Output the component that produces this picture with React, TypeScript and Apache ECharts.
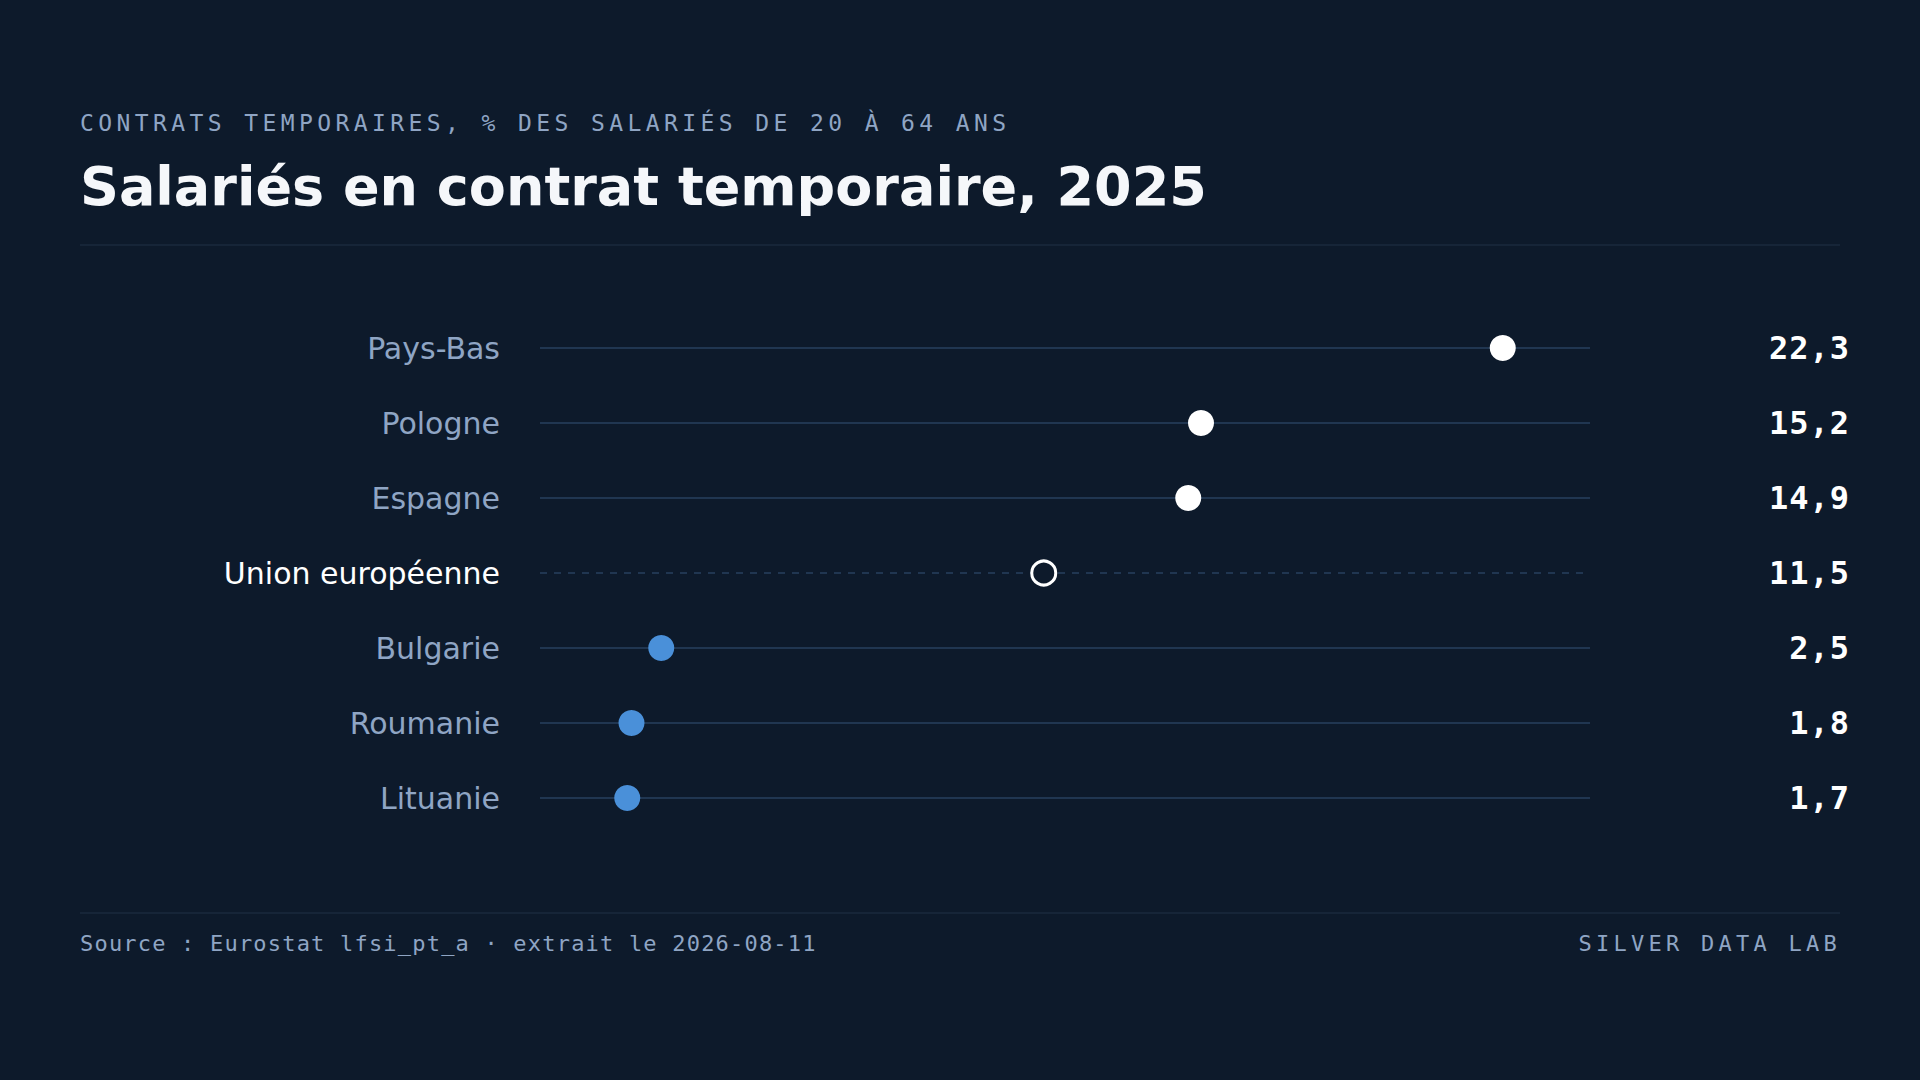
import React, { useEffect, useRef } from "react";
import * as echarts from "echarts";

// ---- data ----
const categories = ["Pays-Bas", "Pologne", "Espagne", "Union européenne", "Bulgarie", "Roumanie", "Lituanie"];
const values = [22.3, 15.2, 14.9, 11.5, 2.5, 1.8, 1.7];
const referenceCategory = "Union européenne";
const xDomain = [0, 24];

const subtitleText = "CONTRATS TEMPORAIRES, % DES SALARIÉS DE 20 À 64 ANS";
const titleText = "Salariés en contrat temporaire, 2025";
const sourceText = "Source : Eurostat lfsi_pt_a · extrait le 2026-08-11";
const brandText = "SILVER DATA LAB";

// ---- styles ----
const BG = "#0d1a2b";
const MUTED = "#8fa5c4";
const RULE = "#1a2a3e";
const GUIDE = "#27405f";
const BLUE = "#4a90d9";
const WHITE = "#ffffff";
const SANS = '"DejaVu Sans", "Noto Sans", sans-serif';
const MONO = '"DejaVu Sans Mono", "Liberation Mono", monospace';

const fmt = (v: number) => v.toFixed(1).replace(".", ",");

const letterSpacing: Record<string, number> = {
  [subtitleText]: 4.4,
  [brandText]: 4.25,
  [sourceText]: 1.2,
};
values.forEach((v) => (letterSpacing[fmt(v)] = 1));

export default function App() {
  const ref = useRef<HTMLDivElement>(null);

  useEffect(() => {
    if (!ref.current) return;
    const el = ref.current;
    const chart = echarts.init(el, null, { renderer: "svg" });
    const refIndex = categories.indexOf(referenceCategory);
    const refValue = values[refIndex];

    const applySpacing = () => {
      el.querySelectorAll("text").forEach((t) => {
        const s = letterSpacing[(t.textContent || "").trim()];
        if (s) t.setAttribute("letter-spacing", String(s));
      });
    };

    const option: any = {
      animation: false,
      backgroundColor: BG,
      grid: { left: 555, right: 345, top: 348, height: 450, containLabel: false },
      xAxis: {
        type: "value",
        min: xDomain[0],
        max: xDomain[1],
        show: false,
      },
      yAxis: [
        {
          type: "category",
          data: categories,
          inverse: true,
          boundaryGap: false,
          position: "left",
          axisLine: { show: false },
          axisTick: { show: false },
          splitLine: { show: false },
          axisLabel: {
            margin: 55,
            formatter: (v: string) => (v === referenceCategory ? `{r|${v}}` : `{n|${v}}`),
            rich: {
              n: { fontFamily: SANS, fontSize: 30, color: MUTED },
              r: { fontFamily: SANS, fontSize: 30, color: WHITE },
            },
          },
        },
        {
          type: "category",
          data: categories,
          inverse: true,
          boundaryGap: false,
          position: "right",
          axisLine: { show: false },
          axisTick: { show: false },
          splitLine: { show: false },
          axisLabel: {
            margin: 275,
            align: "right",
            fontFamily: MONO,
            fontWeight: "bold",
            fontSize: 32,
            color: WHITE,
            formatter: (_v: string, i: number) => fmt(values[i]),
          },
        },
      ],
      series: [
        {
          type: "custom",
          yAxisIndex: 0,
          silent: true,
          z: 1,
          data: categories.map((_c, i) => [xDomain[0], i]),
          renderItem: (params: any, api: any) => {
            const i = api.value(1);
            const p0 = api.coord([xDomain[0], i]);
            const p1 = api.coord([xDomain[1], i]);
            const isRef = categories[params.dataIndex] === referenceCategory;
            return {
              type: "line",
              shape: { x1: p0[0] - 15, y1: p0[1], x2: p1[0] + 15, y2: p1[1] },
              style: {
                stroke: GUIDE,
                lineWidth: 1.5,
                lineDash: isRef ? [7, 7] : null,
              },
            };
          },
        },
        {
          type: "scatter",
          yAxisIndex: 0,
          z: 3,
          data: values.map((v, i) => {
            const isRef = i === refIndex;
            return {
              value: [v, i],
              symbol: "circle",
              symbolSize: isRef ? 24 : 26,
              itemStyle: isRef
                ? { color: BG, borderColor: WHITE, borderWidth: 3, opacity: 1 }
                : { color: v > refValue ? WHITE : BLUE, opacity: 1 },
            };
          }),
        },
      ],
      graphic: [
        {
          type: "text",
          x: 80,
          y: 123,
          style: {
            text: subtitleText,
            fill: MUTED,
            font: `23px ${MONO}`,
            align: "left",
            verticalAlign: "middle",
          },
        },
        {
          type: "text",
          x: 80,
          y: 186,
          style: {
            text: titleText,
            fill: "#f5f7fa",
            font: `bold 54px ${SANS}`,
            align: "left",
            verticalAlign: "middle",
          },
        },
        {
          type: "line",
          shape: { x1: 80, y1: 245, x2: 1840, y2: 245 },
          style: { stroke: RULE, lineWidth: 1.5 },
        },
        {
          type: "line",
          shape: { x1: 80, y1: 913, x2: 1840, y2: 913 },
          style: { stroke: RULE, lineWidth: 1.5 },
        },
        {
          type: "text",
          x: 80,
          y: 943,
          style: {
            text: sourceText,
            fill: MUTED,
            font: `22px ${MONO}`,
            align: "left",
            verticalAlign: "middle",
          },
        },
        {
          type: "text",
          x: 1841,
          y: 943,
          style: {
            text: brandText,
            fill: MUTED,
            font: `22px ${MONO}`,
            align: "right",
            verticalAlign: "middle",
          },
        },
      ],
    };

    chart.on("finished", applySpacing);
    chart.setOption(option);
    applySpacing();
    const t = setTimeout(applySpacing, 50);
    return () => {
      clearTimeout(t);
      chart.dispose();
    };
  }, []);

  return (
    <div
      ref={ref}
      style={{ position: "fixed", left: 0, top: 0, width: 1920, height: 1080 }}
    />
  );
}
